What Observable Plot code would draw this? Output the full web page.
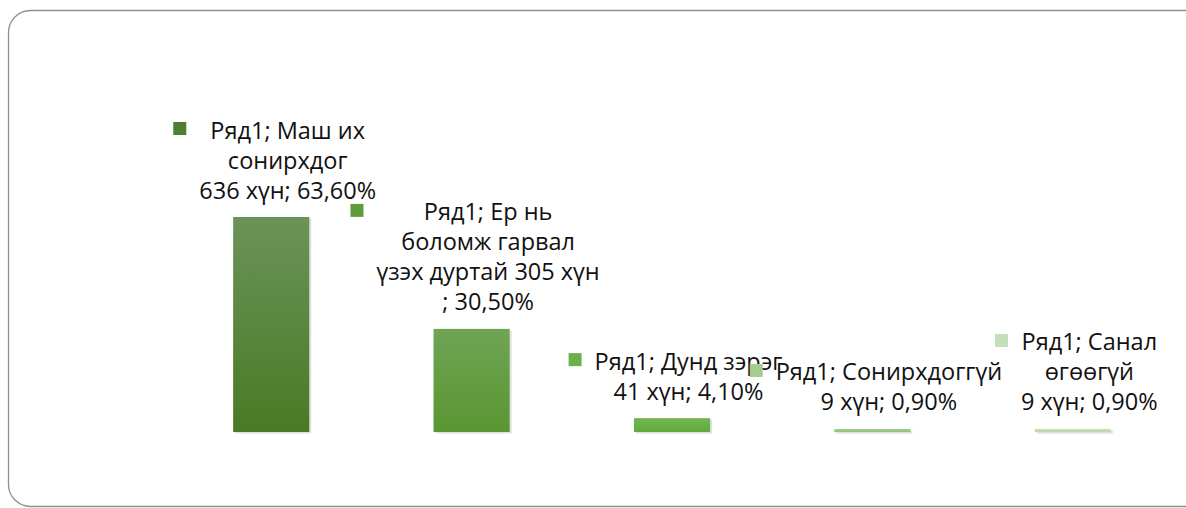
<!DOCTYPE html>
<html>
<head>
<meta charset="utf-8">
<script src="https://cdn.jsdelivr.net/npm/d3@7"></script>
<script src="https://cdn.jsdelivr.net/npm/@observablehq/plot@0.6"></script>
<style>
  html, body { margin: 0; padding: 0; background: #fff; }
  #chart { width: 1186px; height: 508px; overflow: hidden; }
</style>
</head>
<body>
<div id="chart"></div>
<script>
// ---- data ----
const seriesName = "Ряд1";
const categories = ["Маш их сонирхдог", "Ер нь боломж гарвал үзэх дуртай", "Дунд зэрэг", "Сонирхдоггүй", "Санал өгөөгүй"];
const counts = [636, 305, 41, 9, 9];
const percents = ["63,60%", "30,50%", "4,10%", "0,90%", "0,90%"];
const labelLines = [
  ["Ряд1; Маш их", "сонирхдог", "636 хүн; 63,60%"],
  ["Ряд1; Ер нь", "боломж гарвал", "үзэх дуртай 305 хүн", "; 30,50%"],
  ["Ряд1; Дунд зэрэг", "41 хүн; 4,10%"],
  ["Ряд1; Сонирхдоггүй", "9 хүн; 0,90%"],
  ["Ряд1; Санал", "өгөөгүй", "9 хүн; 0,90%"]
];
const barTopColors = ["#6b9358", "#6fa455", "#72b653", "#a2cd92", "#cae2bf"];
const barBottomColors = ["#4a7a25", "#5a9632", "#62aa3c", "#8cc27a", "#b8d8aa"];
const keyColors = ["#4e7e2f", "#5e9c3b", "#6cb04a", "#a3cc90", "#c5dfb9"];

// ---- layout constants ----
const FONT = "'Open Sans', Lato, sans-serif";
const FS = 23.5;
const LINE_PX = 30;
const LINE_H = LINE_PX / FS;      // em
const LABEL_DX = 16;
const LAST_BASELINE = -19;
const KEY_SIDE = 13;

const ctx = document.createElement("canvas").getContext("2d");
ctx.font = `${FS}px ${FONT}`;

const data = categories.map((c, i) => ({
  category: c,
  count: counts[i],
  percent: percents[i],
  i,
  text: labelLines[i].join("\n"),
  n: labelLines[i].length,
  width: Math.max(...labelLines[i].map(l => ctx.measureText(l).width))
}));

function svgEl(tag, attrs) {
  const e = document.createElementNS("http://www.w3.org/2000/svg", tag);
  for (const k in attrs) e.setAttribute(k, attrs[k]);
  return e;
}

const defsMark = () => {
  const g = svgEl("g", {});
  const defs = svgEl("defs", {});
  data.forEach(d => {
    const lg = svgEl("linearGradient", {id: `grad${d.i}`, x1: 0, y1: 0, x2: 0, y2: 1});
    lg.appendChild(svgEl("stop", {offset: "0%", "stop-color": barTopColors[d.i]}));
    lg.appendChild(svgEl("stop", {offset: "100%", "stop-color": barBottomColors[d.i]}));
    defs.appendChild(lg);
  });
  g.appendChild(defs);
  return g;
};

const frameMark = () => svgEl("rect", {
  x: 8.5, y: 10.5, width: 1200, height: 496, rx: 22, ry: 22,
  fill: "none", stroke: "#8f8f8f", "stroke-width": 1.3
});

const keyMarks = data.map(d => Plot.dot([d], {
  x: "category",
  y: "count",
  symbol: "square",
  r: KEY_SIDE / Math.sqrt(Math.PI),
  fill: keyColors[d.i],
  dx: LABEL_DX - d.width / 2 - 13 - KEY_SIDE / 2,
  dy: LAST_BASELINE - (d.n - 1) * LINE_PX - 10
}));

const chart = Plot.plot({
  width: 1186,
  height: 508,
  marginLeft: 171,
  marginRight: 13,
  marginTop: 217,
  marginBottom: 76,
  style: {background: "transparent", overflow: "visible"},
  x: {domain: categories, paddingInner: 0.62, paddingOuter: 0.31, round: false, axis: null},
  y: {domain: [0, 636], axis: null},
  color: {type: "identity"},
  marks: [
    defsMark,
    frameMark,
    Plot.barY(data, {x: "category", y: "count", fill: "#000", fillOpacity: 0.12, dx: 2, dy: 1.5}),
    Plot.barY(data, {x: "category", y: "count", fill: d => `url(#grad${d.i})`}),
    Plot.text(data, {
      x: "category",
      y: "count",
      text: "text",
      lineAnchor: "bottom",
      lineHeight: LINE_H,
      dx: LABEL_DX,
      dy: LAST_BASELINE,
      fontSize: FS,
      fontFamily: FONT,
      fill: "#111"
    }),
    ...keyMarks
  ]
});
document.getElementById("chart").appendChild(chart);
</script>
</body>
</html>
